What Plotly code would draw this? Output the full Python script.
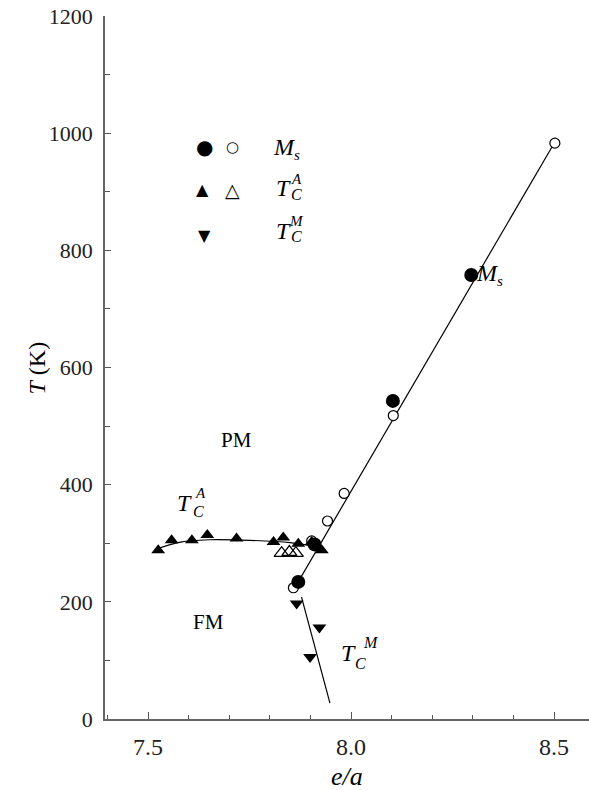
import plotly.graph_objects as go

# ---- data (e/a, T in K) ----
ms_filled_x = [7.870, 7.910, 8.103, 8.296]
ms_filled_t = [234, 298, 543, 758]
ms_open_x = [7.858, 7.903, 7.942, 7.983, 8.104, 8.502]
ms_open_t = [224, 304, 338, 385, 518, 983]

tca_filled_x = [7.525, 7.558, 7.608, 7.646, 7.718, 7.809, 7.833, 7.870, 7.903, 7.916, 7.928]
tca_filled_t = [288, 305, 305, 314, 308, 302, 310, 299, 302, 294, 288]
tca_open_x = [7.829, 7.848, 7.864]
tca_open_t = [283, 285, 283]

tcm_x = [7.866, 7.899, 7.922]
tcm_t = [197, 106, 156]

# fitted boundary lines
ms_line_x = [7.868, 8.502]
ms_line_t = [232, 985]
tcm_line_x = [7.878, 7.948]
tcm_line_t = [208, 27]
tca_curve_x = [7.52, 7.58, 7.65, 7.75, 7.85, 7.915]
tca_curve_t = [290, 302, 306, 305, 301, 294]

x_ticks = [7.5, 8.0, 8.5]
y_ticks = [0, 200, 400, 600, 800, 1000, 1200]

SERIF = "Liberation Serif"
fig = go.Figure()

line_style = dict(color="black", width=1.2)
fig.add_trace(go.Scatter(x=ms_line_x, y=ms_line_t, mode="lines", line=line_style))
fig.add_trace(go.Scatter(x=tcm_line_x, y=tcm_line_t, mode="lines", line=line_style))
fig.add_trace(go.Scatter(x=tca_curve_x, y=tca_curve_t, mode="lines",
                         line=dict(color="black", width=1.2, shape="spline")))

fig.add_trace(go.Scatter(x=tca_open_x, y=tca_open_t, mode="markers",
                         marker=dict(symbol="triangle-up-open", size=13, color="black",
                                     line=dict(width=1.3))))
fig.add_trace(go.Scatter(x=ms_open_x, y=ms_open_t, mode="markers",
                         marker=dict(symbol="circle", size=10, color="white",
                                     line=dict(color="black", width=1.2))))
fig.add_trace(go.Scatter(x=tca_filled_x, y=tca_filled_t, mode="markers",
                         marker=dict(symbol="triangle-up", size=12, color="black")))
fig.add_trace(go.Scatter(x=tcm_x, y=tcm_t, mode="markers",
                         marker=dict(symbol="triangle-down", size=12, color="black")))
fig.add_trace(go.Scatter(x=ms_filled_x, y=ms_filled_t, mode="markers",
                         marker=dict(symbol="circle", size=14, color="black")))

ann = []
def txt(x, y, s, size, italic=True):
    t = f"<i>{s}</i>" if italic else s
    ann.append(dict(x=x, y=y, xref="x", yref="y", text=t, showarrow=False,
                    font=dict(family=SERIF, size=size, color="black"),
                    xanchor="center", yanchor="middle"))

def glyph(x, y, s, size):
    ann.append(dict(x=x, y=y, xref="x", yref="y", text=s, showarrow=False,
                    font=dict(family="DejaVu Sans", size=size, color="black"),
                    xanchor="center", yanchor="middle"))

# legend block
glyph(7.638, 976, "●", 20)
glyph(7.709, 976, "○", 15)
txt(7.837, 976, "M", 24); txt(7.868, 963, "s", 15)
glyph(7.635, 903, "▲", 16)
glyph(7.707, 903, "△", 19)
txt(7.833, 906, "T", 24); txt(7.866, 921, "A", 15); txt(7.866, 896, "C", 16)
glyph(7.638, 826, "▼", 16)
txt(7.833, 833, "T", 24); txt(7.866, 850, "M", 15); txt(7.866, 823, "C", 16)

# in-plot labels
txt(8.335, 761, "M", 24); txt(8.368, 748, "s", 15)
txt(7.719, 476, "PM", 21, italic=False)
txt(7.648, 166, "FM", 21, italic=False)
txt(7.589, 369, "T", 24); txt(7.628, 386, "A", 15); txt(7.624, 354, "C", 16)
txt(7.993, 113, "T", 24); txt(8.050, 131, "M", 16); txt(8.024, 95, "C", 16)

# axis titles
ann.append(dict(x=-0.1405, y=0.5, xref="paper", yref="paper", text="<i>T</i> (K)",
                showarrow=False, textangle=-90, xanchor="center", yanchor="middle",
                font=dict(family=SERIF, size=24, color="black")))
ann.append(dict(x=0.5, y=-0.0825, xref="paper", yref="paper", text="<i>e/a</i>",
                showarrow=False, xanchor="center", yanchor="middle",
                font=dict(family=SERIF, size=26, color="black")))

fig.update_layout(
    width=589, height=790,
    margin=dict(l=105, r=0, t=16, b=71),
    plot_bgcolor="white", paper_bgcolor="white",
    showlegend=False,
    annotations=ann,
    font=dict(family=SERIF, color="black"),
)
fig.update_xaxes(
    range=[7.394, 8.586], tickvals=x_ticks, ticktext=[f"{v:.1f}" for v in x_ticks],
    ticks="inside", ticklen=7, tickwidth=1.3, tickcolor="#555",
    minor=dict(dtick=0.1, tick0=7.5, ticks="inside", ticklen=4, tickcolor="#555", tickwidth=1.2),
    showline=True, linecolor="#666", linewidth=1.6, showgrid=False, zeroline=False,
    tickfont=dict(family=SERIF, size=24, color="#222"),
    ticklabelstandoff=5,
)
fig.update_yaxes(
    range=[0, 1200], tickvals=y_ticks,
    ticks="inside", ticklen=6, tickwidth=1.3, tickcolor="#555",
    minor=dict(dtick=100, ticks="inside", ticklen=5, tickcolor="#555", tickwidth=1.2),
    showline=True, linecolor="#666", linewidth=1.6, showgrid=False, zeroline=False,
    tickfont=dict(family=SERIF, size=22, color="#222"),
    ticklabelstandoff=6,
)

fig.write_html("out.html", config={"displayModeBar": False},
               post_script="document.body.style.margin='0';document.body.style.overflow='hidden';")
